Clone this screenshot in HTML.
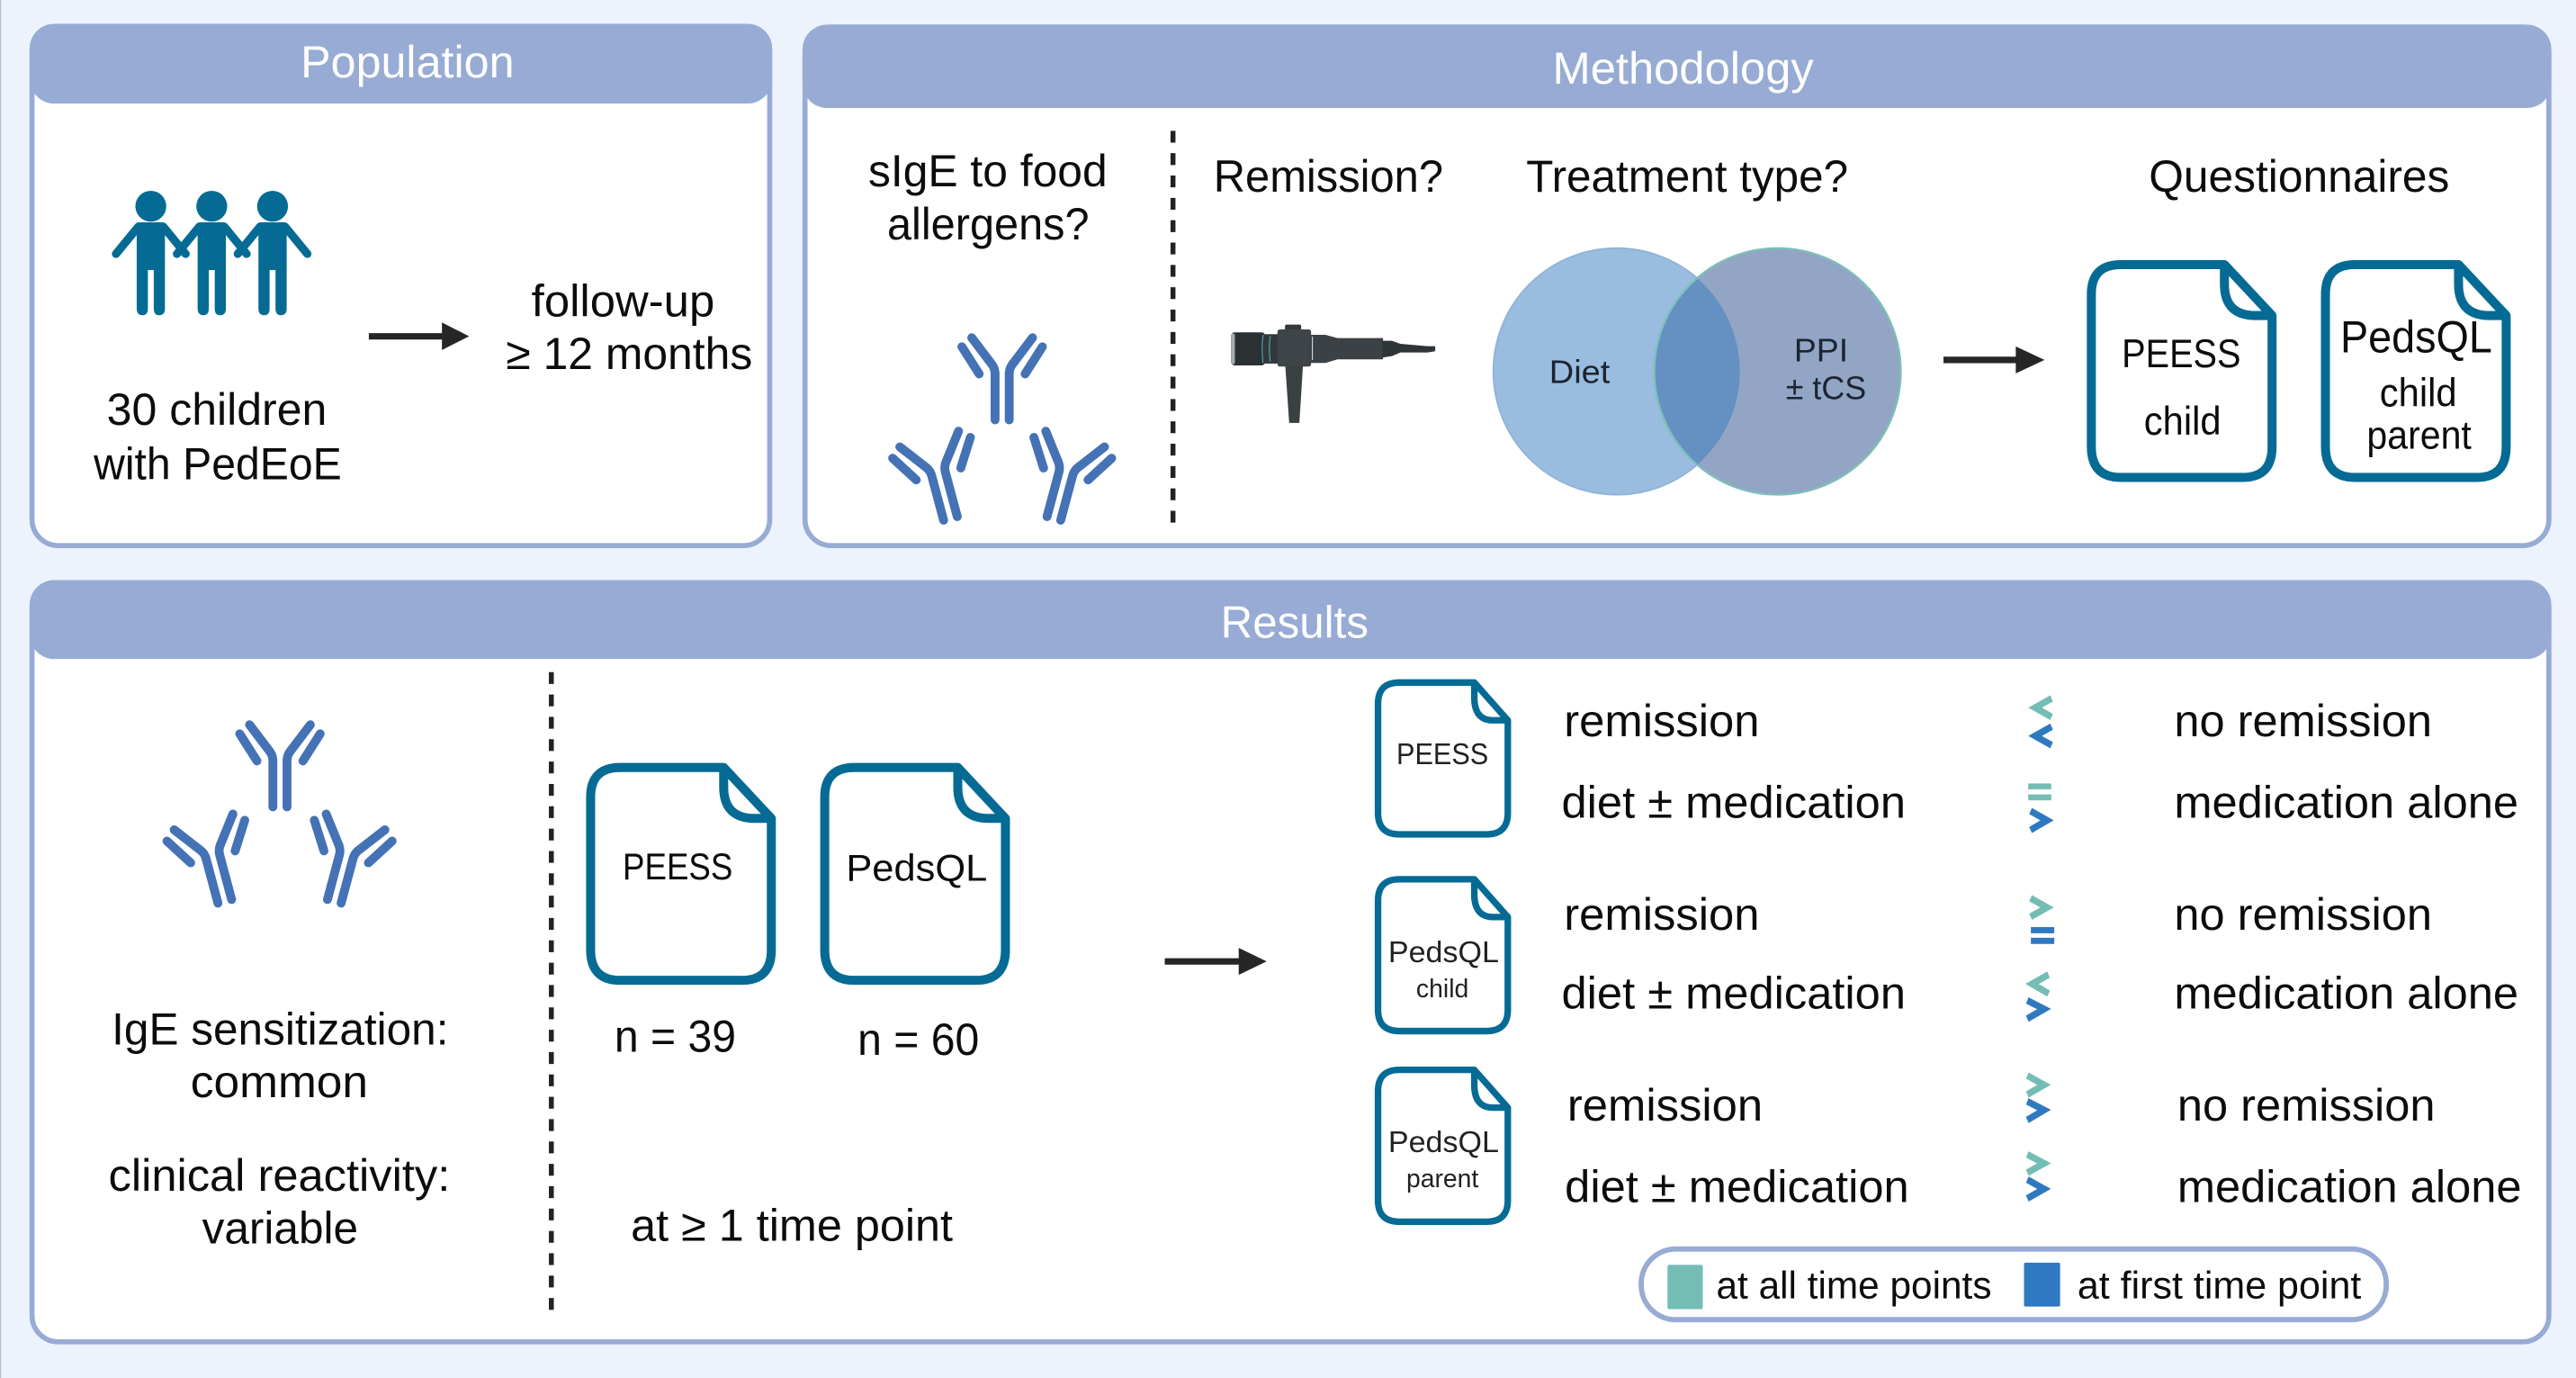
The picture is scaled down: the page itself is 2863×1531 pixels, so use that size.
<!DOCTYPE html>
<html>
<head>
<meta charset="utf-8">
<style>
html,body{margin:0;padding:0;background:#ecf3fc;width:2863px;height:1531px;overflow:hidden}
svg{display:block}
text{font-family:"Liberation Sans",sans-serif;fill:#0c0c0c}
.h{font-size:27.5px;fill:#fff}
.b{font-size:27.5px}
.m{font-size:24.5px}
.s{font-size:20px;fill:#1b2430}
.x{font-size:15.5px;fill:#222}
.l{font-size:23.5px}
</style>
</head>
<body>
<svg xmlns="http://www.w3.org/2000/svg" width="2863" height="1531" viewBox="0 0 1568 838.5">
<defs>
<g id="ab" fill="none" stroke="#4472b5" stroke-width="5.4" stroke-linecap="round" stroke-linejoin="round">
  <path d="M-4.3,31V3Q-4.3,0 -6,-2.5L-18.5,-19"/>
  <path d="M4.3,31V3Q4.3,0 6,-2.5L18.5,-19"/>
  <path d="M-24.5,-13.5L-14,3"/>
  <path d="M24.5,-13.5L14,3"/>
</g>
<path id="bd" fill="#fff" stroke="#066b94" stroke-width="5.5" stroke-linejoin="round" d="M18,0H81L110,31V111Q110,129.5 92,129.5H18Q0,129.5 0,111V18Q0,0 18,0ZM81,0V12Q81,31 100,31H110"/>
<path id="sd" fill="#fff" stroke="#066b94" stroke-width="4" stroke-linejoin="round" d="M13,0H58.6L79,23V79.4Q79,92.4 66,92.4H13Q0,92.4 0,79.4V13Q0,0 13,0ZM58.6,0V9Q58.6,23 70,23H79"/>
<g id="kid">
  <ellipse cx="0" cy="-9.8" rx="9.4" ry="9.4" fill="#066b94"/>
  <path fill="#066b94" d="M-6.5,0H6.5Q8.6,0 8.6,3V52.5Q8.6,56.5 5,56.5Q1.8,56.5 1.8,52.5V29H-1.8V52.5Q-1.8,56.5 -5,56.5Q-8.6,56.5 -8.6,52.5V3Q-8.6,0 -6.5,0Z"/>
  <path fill="none" stroke="#066b94" stroke-width="5" stroke-linecap="round" d="M-7.5,2.5L-21.2,19.2M7.5,2.5L21.2,19.2"/>
</g>
<clipPath id="cl"><circle cx="984" cy="226" r="75"/></clipPath>
</defs>

<rect x="0" y="0" width="1568" height="838.5" fill="#ecf3fc"/>
<rect x="0" y="0" width="0.7" height="838.5" fill="#b9c0cb"/>

<!-- Population panel -->
<rect x="19.5" y="16" width="449" height="316" rx="16" fill="#fff" stroke="#97abd4" stroke-width="3.1"/>
<rect x="18" y="14.5" width="452" height="48.5" rx="15" fill="#97abd4"/>
<text class="h" x="183" y="47" textLength="130" lengthAdjust="spacingAndGlyphs">Population</text>

<g transform="translate(91.8,135.3)"><use href="#kid"/></g>
<g transform="translate(128.9,135.3)"><use href="#kid"/></g>
<g transform="translate(165.9,135.3)"><use href="#kid"/></g>

<text class="b" x="65" y="258.5" textLength="134" lengthAdjust="spacingAndGlyphs">30 children</text>
<text class="b" x="57" y="291.7" textLength="151" lengthAdjust="spacingAndGlyphs">with PedEoE</text>

<path d="M224.5,202.7H269V196.2L285.5,204.6L269,213V206.6H224.5Z" fill="#262626"/>

<text class="b" x="323.5" y="192.5" textLength="111.5" lengthAdjust="spacingAndGlyphs">follow-up</text>
<text class="b" x="308" y="224.5" textLength="150" lengthAdjust="spacingAndGlyphs">≥ 12 months</text>

<!-- Methodology panel -->
<rect x="490" y="16.5" width="1061.5" height="315.5" rx="16" fill="#fff" stroke="#97abd4" stroke-width="3.1"/>
<rect x="488.5" y="15" width="1064.5" height="50.7" rx="15" fill="#97abd4"/>
<text class="h" x="945" y="51" textLength="159" lengthAdjust="spacingAndGlyphs">Methodology</text>

<text class="b" x="528.5" y="113.3" textLength="145.5" lengthAdjust="spacingAndGlyphs">sIgE to food</text>
<text class="b" x="540" y="145.6" textLength="123" lengthAdjust="spacingAndGlyphs">allergens?</text>
<line x1="714" y1="79.6" x2="714" y2="318" stroke="#222" stroke-width="3" stroke-dasharray="7.2 6.4"/>

<use href="#ab" transform="translate(610,224.5)"/>
<use href="#ab" transform="translate(570.5,285.5) rotate(-15)"/>
<use href="#ab" transform="translate(649.5,285.5) rotate(15)"/>

<text class="b" x="738.7" y="116.6" textLength="139.8" lengthAdjust="spacingAndGlyphs">Remission?</text>
<text class="b" x="929" y="116.6" textLength="196" lengthAdjust="spacingAndGlyphs">Treatment type?</text>
<text class="b" x="1308" y="116.6" textLength="183" lengthAdjust="spacingAndGlyphs">Questionnaires</text>

<!-- endoscope -->
<g transform="translate(733.8,186.2) scale(0.1825)">
  <rect x="85" y="88" width="114" height="110" rx="12" fill="#2b3033"/>
  <rect x="85" y="92" width="13" height="102" rx="6" fill="#a8acae"/>
  <rect x="195" y="94" width="50" height="98" fill="#33383b"/>
  <path d="M192,96Q186,143 192,190M216,100Q210,143 216,186" fill="none" stroke="#5fb6c0" stroke-width="3"/>
  <rect x="265" y="62" width="54" height="30" rx="6" fill="#33383b"/>
  <rect x="240" y="78" width="112" height="124" rx="8" fill="#3f4448"/>
  <path d="M266,198H325L313,390H279Z" fill="#3b4043"/>
  <path d="M350,96H400L440,107H592V178H440L400,190H350Z" fill="#3c4145"/>
  <rect x="355" y="102" width="3" height="78" fill="#e8e8e8"/>
  <path d="M590,116H622L650,126L740,134H766V151L740,155H650L622,167L590,172Z" fill="#2f3437"/>
</g>

<!-- venn -->
<circle cx="984" cy="226" r="75" fill="#9abcdf" stroke="#8fb3d8" stroke-width="1"/>
<circle cx="1082" cy="226" r="75" fill="#92a5c5" stroke="#7cc0b8" stroke-width="1.2"/>
<circle cx="1082" cy="226" r="75" fill="#6490c2" stroke="#7cc0b8" stroke-width="1.2" clip-path="url(#cl)"/>
<text class="s" x="943" y="233" textLength="37" lengthAdjust="spacingAndGlyphs">Diet</text>
<text class="s" x="1092" y="220" textLength="33" lengthAdjust="spacingAndGlyphs">PPI</text>
<text class="s" x="1087" y="243" textLength="49" lengthAdjust="spacingAndGlyphs">± tCS</text>

<path d="M1183,217H1227V210.8L1244.5,219L1227,227.2V221H1183Z" fill="#262626"/>

<use href="#bd" transform="translate(1273,161)"/>
<use href="#bd" transform="translate(1415.5,161)"/>
<text class="m" x="1291.5" y="223.5" textLength="72.5" lengthAdjust="spacingAndGlyphs">PEESS</text>
<text class="m" x="1305" y="264.6" textLength="47" lengthAdjust="spacingAndGlyphs">child</text>
<text class="b" x="1424.5" y="214.5" textLength="92.5" lengthAdjust="spacingAndGlyphs">PedsQL</text>
<text class="m" x="1448.5" y="247.4" textLength="47" lengthAdjust="spacingAndGlyphs">child</text>
<text class="m" x="1440.6" y="272.9" textLength="63.8" lengthAdjust="spacingAndGlyphs">parent</text>

<!-- Results panel -->
<rect x="19.5" y="354.5" width="1532" height="462" rx="16" fill="#fff" stroke="#97abd4" stroke-width="3.1"/>
<rect x="18" y="353" width="1535" height="48" rx="15" fill="#97abd4"/>
<text class="h" x="743" y="388" textLength="90" lengthAdjust="spacingAndGlyphs">Results</text>

<use href="#ab" transform="translate(170.4,460)"/>
<use href="#ab" transform="translate(128.8,518.5) rotate(-15)"/>
<use href="#ab" transform="translate(211.5,518.5) rotate(15)"/>

<text class="b" x="68" y="635.5" textLength="205" lengthAdjust="spacingAndGlyphs">IgE sensitization:</text>
<text class="b" x="116" y="667.5" textLength="108" lengthAdjust="spacingAndGlyphs">common</text>
<text class="b" x="66" y="724.5" textLength="208" lengthAdjust="spacingAndGlyphs">clinical reactivity:</text>
<text class="b" x="123" y="756.5" textLength="95" lengthAdjust="spacingAndGlyphs">variable</text>

<line x1="335.6" y1="409" x2="335.6" y2="800" stroke="#222" stroke-width="3" stroke-dasharray="7.2 6.4"/>

<use href="#bd" transform="translate(359.5,467)"/>
<use href="#bd" transform="translate(502,467)"/>
<text class="m" style="font-size:23px" x="379" y="535" textLength="67" lengthAdjust="spacingAndGlyphs">PEESS</text>
<text class="m" style="font-size:23px" x="515" y="536" textLength="86" lengthAdjust="spacingAndGlyphs">PedsQL</text>
<text class="b" x="374" y="640" textLength="74" lengthAdjust="spacingAndGlyphs">n = 39</text>
<text class="b" x="522" y="642" textLength="74" lengthAdjust="spacingAndGlyphs">n = 60</text>
<text class="b" x="384" y="755" textLength="196" lengthAdjust="spacingAndGlyphs">at ≥ 1 time point</text>

<path d="M709,583.1H754V576.8L771,585L754,593.2V587H709Z" fill="#262626"/>

<use href="#sd" transform="translate(838.8,415.3)"/>
<use href="#sd" transform="translate(838.8,535)"/>
<use href="#sd" transform="translate(838.8,651)"/>
<text class="x" style="font-size:18.5px" x="850" y="465" textLength="56" lengthAdjust="spacingAndGlyphs">PEESS</text>
<text class="x" style="font-size:18.5px" x="845" y="585.5" textLength="67.4" lengthAdjust="spacingAndGlyphs">PedsQL</text>
<text class="x" x="862" y="606.8" textLength="32" lengthAdjust="spacingAndGlyphs">child</text>
<text class="x" style="font-size:18.5px" x="845" y="701" textLength="67.4" lengthAdjust="spacingAndGlyphs">PedsQL</text>
<text class="x" x="856" y="722.5" textLength="44" lengthAdjust="spacingAndGlyphs">parent</text>

<text class="b" x="952" y="448" textLength="119" lengthAdjust="spacingAndGlyphs">remission</text>
<text class="b" x="950.5" y="497.7" textLength="209.5" lengthAdjust="spacingAndGlyphs">diet ± medication</text>
<text class="b" x="1323.4" y="448" textLength="157" lengthAdjust="spacingAndGlyphs">no remission</text>
<text class="b" x="1323.4" y="497.7" textLength="209.6" lengthAdjust="spacingAndGlyphs">medication alone</text>

<text class="b" x="952" y="565.7" textLength="119" lengthAdjust="spacingAndGlyphs">remission</text>
<text class="b" x="950.5" y="613.8" textLength="209.5" lengthAdjust="spacingAndGlyphs">diet ± medication</text>
<text class="b" x="1323.4" y="565.7" textLength="157" lengthAdjust="spacingAndGlyphs">no remission</text>
<text class="b" x="1323.4" y="613.8" textLength="209.6" lengthAdjust="spacingAndGlyphs">medication alone</text>

<text class="b" x="954" y="681.8" textLength="119" lengthAdjust="spacingAndGlyphs">remission</text>
<text class="b" x="952.5" y="731.4" textLength="209.5" lengthAdjust="spacingAndGlyphs">diet ± medication</text>
<text class="b" x="1325.3" y="681.8" textLength="157" lengthAdjust="spacingAndGlyphs">no remission</text>
<text class="b" x="1325.3" y="731.4" textLength="209.6" lengthAdjust="spacingAndGlyphs">medication alone</text>

<!-- comparison symbols -->
<g transform="translate(1204.8,410.7) scale(0.1825,0.2096)" fill="none" stroke-width="20" stroke-linejoin="miter">
  <g stroke="#74bdb5">
    <path d="M241,68L186,95L241,122"/>
    <path d="M171,648L226,675L171,702"/>
    <path d="M231,870L176,897L231,925"/>
    <path d="M160,1163L216,1190L160,1218"/>
    <path d="M160,1392L216,1418L160,1445"/>
  </g>
  <g stroke="#2f79c1">
    <path d="M241,150L186,177L241,204"/>
    <path d="M171,395L226,422L171,450"/>
    <path d="M160,945L216,970L160,998"/>
    <path d="M160,1238L216,1263L160,1292"/>
    <path d="M160,1465L216,1492L160,1520"/>
  </g>
  <rect x="163" y="315" width="77" height="17" fill="#74bdb5" stroke="none"/>
  <rect x="163" y="347" width="77" height="17" fill="#74bdb5" stroke="none"/>
  <rect x="172" y="732" width="78" height="18" fill="#2f79c1" stroke="none"/>
  <rect x="172" y="763" width="78" height="18" fill="#2f79c1" stroke="none"/>
</g>

<!-- legend -->
<rect x="999" y="760" width="453.5" height="43" rx="21" fill="#fff" stroke="#97abd4" stroke-width="3.2"/>
<rect x="1015" y="769.6" width="21.5" height="27" rx="1" fill="#74bdb5"/>
<rect x="1232" y="768.3" width="22" height="26.7" rx="1" fill="#2f79c1"/>
<text class="l" x="1044.7" y="790" textLength="167.6" lengthAdjust="spacingAndGlyphs">at all time points</text>
<text class="l" x="1264.5" y="790" textLength="172.8" lengthAdjust="spacingAndGlyphs">at first time point</text>
</svg>
</body>
</html>
